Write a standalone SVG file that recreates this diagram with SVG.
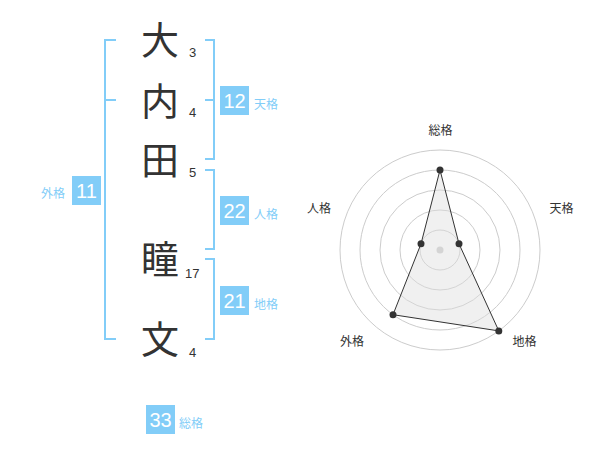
<svg xmlns="http://www.w3.org/2000/svg" width="600" height="470" viewBox="0 0 600 470">
<style>
.ch{font-family:"Noto Sans CJK JP","Noto Sans CJK SC",sans-serif;font-size:38px;fill:#333;text-anchor:middle}
.num{font-family:"Liberation Sans",Arial,sans-serif;font-size:13px;fill:#333}
.br{fill:none;stroke:#82cdf8;stroke-width:2}
.badge{fill:#82cdf8}
.bt{font-family:"Liberation Sans",Arial,sans-serif;font-size:20px;fill:#fff;text-anchor:middle}
.lb{font-family:"Noto Sans CJK JP","Noto Sans CJK SC",sans-serif;font-size:12px;fill:#82cdf8}
.rl{font-family:"Noto Sans CJK JP","Noto Sans CJK SC",sans-serif;font-size:12px;fill:#333;text-anchor:middle}
.ring{fill:none;stroke:#ccc;stroke-width:1}
.dot{fill:#333}
</style>
<rect width="600" height="470" fill="#fff"/>
<g id="connectors">
<path class="br" d="M116,40H105V339H116M105,100H116"/>
<path class="br" d="M205,40H214V159H205M214,100H205"/>
<path class="br" d="M205,170H214V249H205"/>
<path class="br" d="M205,259H214V339H205"/>
</g>
<g id="char1"><text class="ch" x="160" y="54">大</text><text class="num" x="189" y="57">3</text></g>
<g id="char2"><text class="ch" x="160" y="115">内</text><text class="num" x="189" y="117">4</text></g>
<g id="char3"><text class="ch" x="160" y="174">田</text><text class="num" x="189" y="177">5</text></g>
<g id="char4"><text class="ch" x="160" y="273">瞳</text><text class="num" x="185" y="278">17</text></g>
<g id="char5"><text class="ch" x="160" y="353">文</text><text class="num" x="189" y="357">4</text></g>
<g id="tenkaku"><rect class="badge" x="220" y="86" width="29" height="29"/><text class="bt" x="234.5" y="108">12</text><text class="lb" x="254" y="109">天格</text></g>
<g id="jinkaku"><rect class="badge" x="220" y="196" width="29" height="29"/><text class="bt" x="234.5" y="218">22</text><text class="lb" x="254" y="219">人格</text></g>
<g id="chikaku"><rect class="badge" x="220" y="286" width="29" height="29"/><text class="bt" x="234.5" y="308">21</text><text class="lb" x="254" y="309">地格</text></g>
<g id="gaikaku"><rect class="badge" x="72" y="176" width="29" height="29"/><text class="bt" x="86.5" y="198">11</text><text class="lb" x="41" y="198">外格</text></g>
<g id="soukaku"><rect class="badge" x="146" y="405" width="29" height="29"/><text class="bt" x="160.5" y="427">33</text><text class="lb" x="179" y="428">総格</text></g>
<g id="radar">
<circle class="ring" cx="440" cy="250" r="20"/>
<circle class="ring" cx="440" cy="250" r="40"/>
<circle class="ring" cx="440" cy="250" r="60"/>
<circle class="ring" cx="440" cy="250" r="80"/>
<circle class="ring" cx="440" cy="250" r="100"/>
<circle cx="440" cy="250" r="3.5" fill="#ccc"/>
<polygon points="440,170 459,243.8 498.8,330.9 393,314.7 421,243.8" fill="#ddd" fill-opacity="0.45" stroke="#333" stroke-width="1"/>
<circle class="dot" cx="440" cy="170" r="3.5"/>
<circle class="dot" cx="459" cy="243.8" r="3.5"/>
<circle class="dot" cx="498.8" cy="330.9" r="3.5"/>
<circle class="dot" cx="393" cy="314.7" r="3.5"/>
<circle class="dot" cx="421" cy="243.8" r="3.5"/>
<text class="rl" x="440.5" y="135">総格</text>
<text class="rl" x="561.5" y="213">天格</text>
<text class="rl" x="524.5" y="346">地格</text>
<text class="rl" x="352" y="346">外格</text>
<text class="rl" x="319" y="213">人格</text>
</g>
</svg>
